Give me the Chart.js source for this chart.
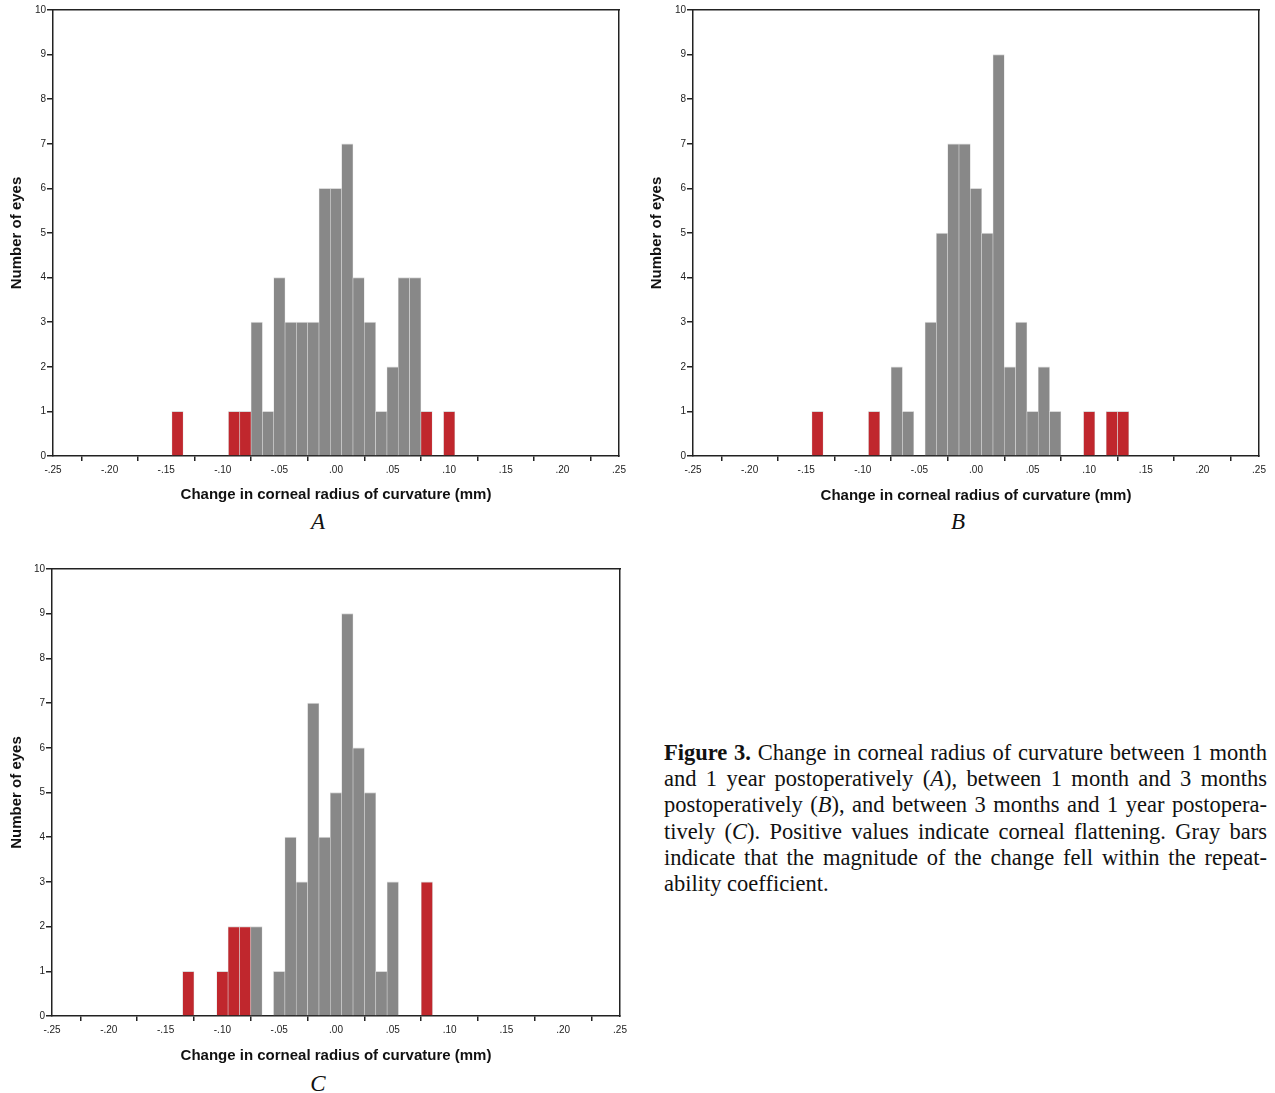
<!DOCTYPE html>
<html><head><meta charset="utf-8">
<script src="https://cdn.jsdelivr.net/npm/chart.js@4.4.1/dist/chart.umd.min.js"></script>
<style>
html,body{margin:0;padding:0;background:#fff;overflow:hidden;width:1275px;height:1093px;}
canvas{position:absolute;}
.lbl{position:absolute;font-family:'Liberation Serif',serif;font-style:italic;font-size:23px;color:#111;transform:translateX(-50%);line-height:26px;}
#cap{position:absolute;left:664px;top:740px;width:603px;font-family:'Liberation Serif',serif;font-size:22.5px;line-height:26.2px;color:#111;}
#cap .l{display:block;text-align:justify;text-align-last:justify;}
#cap .last{display:block;text-align:left;}
</style>
</head><body>
<canvas id="cA" style="left:0;top:0" width="640" height="505"></canvas>
<canvas id="cB" style="left:640px;top:0" width="635" height="505"></canvas>
<canvas id="cC" style="left:0;top:559px" width="640" height="510"></canvas>
<div class="lbl" style="left:318px;top:509px">A</div>
<div class="lbl" style="left:958px;top:509px">B</div>
<div class="lbl" style="left:318px;top:1071px">C</div>
<div id="cap">
<span class="l"><b>Figure 3.</b> Change in corneal radius of curvature between 1 month</span>
<span class="l">and 1 year postoperatively (<i>A</i>), between 1 month and 3 months</span>
<span class="l">postoperatively (<i>B</i>), and between 3 months and 1 year postopera-</span>
<span class="l">tively (<i>C</i>). Positive values indicate corneal flattening. Gray bars</span>
<span class="l">indicate that the magnitude of the change fell within the repeat-</span>
<span class="last">ability coefficient.</span>
</div>
<script>
// ---- data ----
const binsA   = [-0.14,-0.09,-0.08,-0.07,-0.06,-0.05,-0.04,-0.03,-0.02,-0.01,0.00,0.01,0.02,0.03,0.04,0.05,0.06,0.07,0.08,0.10];
const countsA = [1,1,1,3,1,4,3,3,3,6,6,7,4,3,1,2,4,4,1,1];
const binsB   = [-0.14,-0.09,-0.07,-0.06,-0.04,-0.03,-0.02,-0.01,0.00,0.01,0.02,0.03,0.04,0.05,0.06,0.07,0.10,0.12,0.13];
const countsB = [1,1,2,1,3,5,7,7,6,5,9,2,3,1,2,1,1,1,1];
const binsC   = [-0.13,-0.10,-0.09,-0.08,-0.07,-0.05,-0.04,-0.03,-0.02,-0.01,0.00,0.01,0.02,0.03,0.04,0.05,0.08];
const countsC = [1,1,2,2,2,1,4,3,7,4,5,9,6,5,1,3,3];
const xTicks = [-0.25,-0.20,-0.15,-0.10,-0.05,0.00,0.05,0.10,0.15,0.20,0.25];
const xTickLabels = ['-.25','-.20','-.15','-.10','-.05','.00','.05','.10','.15','.20','.25'];
const yTicks = [0,1,2,3,4,5,6,7,8,9,10];
const xTitle = 'Change in corneal radius of curvature (mm)';
const yTitle = 'Number of eyes';
const repeatability = 0.075; // bars beyond this magnitude are red

const RED = '#c0272d', GRAY = '#888888', AX = '#222222';

function build(id, bins, counts, box) {
  const data = bins.map((b, i) => ({x: b, y: counts[i]}));
  const colors = bins.map(b => Math.abs(b) > repeatability ? RED : GRAY);
  const tickFont = {family: 'Liberation Sans', size: 10};
  const titleFont = {family: 'Liberation Sans', size: 15, weight: 'bold'};
  new Chart(document.getElementById(id), {
    type: 'bar',
    data: {datasets: [{
      data, backgroundColor: colors,
      borderColor: '#dadada', borderWidth: {top: 1, left: 0.6, right: 0.6, bottom: 0},
      barPercentage: 1, categoryPercentage: 1, xAxisID: 'x', yAxisID: 'y'
    }]},
    options: {
      responsive: false, animation: false, events: [],
      plugins: {legend: {display: false}, tooltip: {enabled: false}},
      layout: {padding: 0},
      scales: {
        x: {
          type: 'linear', position: 'bottom', min: -0.25, max: 0.25, offset: false,
          afterBuildTicks: s => { s.ticks = xTicks.map(v => ({value: v})); },
          ticks: {callback: (v, i) => xTickLabels[i], font: tickFont, color: AX, padding: 3, maxRotation: 0, autoSkip: false},
          grid: {drawOnChartArea: false, drawTicks: true, tickLength: 5, color: AX, lineWidth: 1.5},
          border: {color: AX, width: 1.5},
          title: {display: true, text: xTitle, font: titleFont, color: '#111', padding: {top: 0, bottom: box.tb}},
          afterFit: s => { s.height = box.bottom; }
        },
        y: {
          type: 'linear', position: 'left', min: 0, max: 10,
          afterBuildTicks: s => { s.ticks = yTicks.map(v => ({value: v})); },
          ticks: {font: tickFont, color: AX, padding: 1},
          grid: {drawOnChartArea: false, drawTicks: true, tickLength: 6, color: AX, lineWidth: 1.5},
          border: {color: AX, width: 1.5},
          title: {display: true, text: yTitle, font: titleFont, color: '#111', padding: {top: box.yt, bottom: 0}},
          afterFit: s => { s.width = box.left; }
        },
        xt: {
          type: 'linear', position: 'top', min: -0.25, max: 0.25,
          ticks: {display: false}, grid: {display: false},
          border: {display: true, color: AX, width: 1.5},
          afterFit: s => { s.height = box.top; }
        },
        yr: {
          type: 'linear', position: 'right', min: 0, max: 10,
          ticks: {display: false}, grid: {display: false},
          border: {display: true, color: AX, width: 1.5},
          afterFit: s => { s.width = box.right; }
        }
      }
    }
  });
}

build('cA', binsA, countsA, {left: 53, right: 21, top: 10, bottom: 49, tb: 1, yt: 8});
build('cB', binsB, countsB, {left: 53, right: 16, top: 10, bottom: 49, tb: 0, yt: 8});
build('cC', binsC, countsC, {left: 52, right: 20, top: 10, bottom: 53, tb: 4, yt: 8});
</script>
</body></html>
